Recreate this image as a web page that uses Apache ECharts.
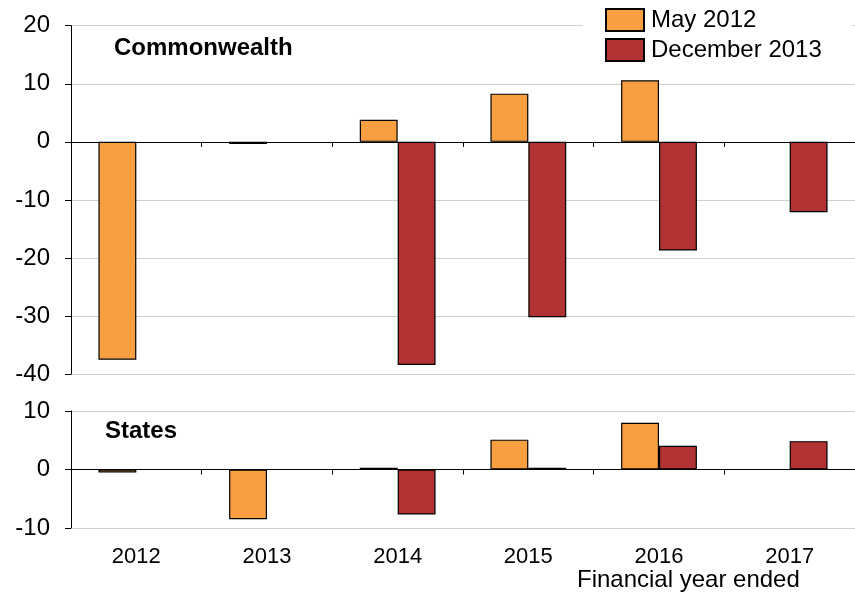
<!DOCTYPE html>
<html>
<head>
<meta charset="utf-8">
<script src="https://cdn.jsdelivr.net/npm/echarts@6/dist/echarts.min.js"></script>
<style>
  html, body { margin: 0; padding: 0; background: #fff; }
  #chart { width: 855px; height: 593px; }
</style>
</head>
<body>
<div id="chart"></div>
<script>
// financial years
var years = ['2012', '2013', '2014', '2015', '2016', '2017'];
var seriesNames = ['May 2012', 'December 2013'];

// Commonwealth panel
var cwMay2012 = [-37.5, -0.35, 3.8, 8.3, 10.6, null];
var cwDec2013 = [null, null, -38.4, -30.2, -18.7, -12.1];

// States panel
var stMay2012 = [-0.5, -8.5, 0.3, 5.1, 8.0, null];
var stDec2013 = [null, null, -7.7, 0.3, 4.05, 4.85];

var font = 'Arial, "Liberation Sans", sans-serif';
var orange = '#F8A041';
var red = '#B13333';

function barStyle(color) {
  return { color: color, borderColor: '#000', borderWidth: 1.2 };
}

function yAxis(grid, min, max, show) {
  return {
    type: 'value',
    gridIndex: grid,
    min: min,
    max: max,
    interval: 10,
    show: show,
    axisLine: { show: true, lineStyle: { color: '#000', width: 1 } },
    axisTick: { show: true, length: 6, lineStyle: { color: '#000' } },
    axisLabel: { color: '#000', fontSize: 24, fontFamily: font, margin: 21 },
    splitLine: { show: true, lineStyle: { color: '#d0d0d0', width: 1 } }
  };
}

function zeroAxis(grid) {
  return {
    type: 'category',
    gridIndex: grid,
    data: years,
    axisLine: { onZero: true, lineStyle: { color: '#000', width: 1 } },
    axisTick: { show: true, length: 5, lineStyle: { color: '#000' } },
    axisLabel: { show: false },
    splitLine: { show: false }
  };
}

var chart = echarts.init(document.getElementById('chart'));

chart.setOption({
  backgroundColor: '#fff',
  animation: false,
  grid: [
    { left: 71, top: 25.7, width: 792, height: 348.5 },
    { left: 71, top: 411, width: 792, height: 117 },
    { left: 71, top: 411, width: 792, height: 117 }
  ],
  xAxis: [
    zeroAxis(0),
    zeroAxis(1),
    {
      type: 'category',
      gridIndex: 2,
      data: years,
      position: 'bottom',
      axisLine: { show: false, onZero: false },
      axisTick: { show: false },
      axisLabel: { color: '#000', fontSize: 22, fontFamily: font, margin: 18 },
      splitLine: { show: false }
    }
  ],
  yAxis: [
    yAxis(0, -40, 20, true),
    yAxis(1, -10, 10, true),
    yAxis(2, -10, 10, false)
  ],
  legend: {
    orient: 'vertical',
    left: 583,
    top: 0,
    padding: [8, 30, 4, 22],
    backgroundColor: '#fff',
    icon: 'rect',
    itemWidth: 38,
    itemHeight: 22,
    itemGap: 6,
    textStyle: { color: '#000', fontSize: 24, fontFamily: font, padding: [0, 0, 0, 2] },
    data: seriesNames,
    z: 10
  },
  graphic: [
    { type: 'text', left: 114, top: 36, style: { text: 'Commonwealth', fontSize: 24, fontWeight: 'bold', fontFamily: font, fill: '#000' } },
    { type: 'text', left: 105, top: 419.5, style: { text: 'States', fontSize: 24, fontWeight: 'bold', fontFamily: font, fill: '#000' } },
    { type: 'text', left: 577, top: 568.5, style: { text: 'Financial year ended', fontSize: 24, fontFamily: font, fill: '#000' } }
  ],
  series: [
    { name: seriesNames[0], type: 'bar', xAxisIndex: 0, yAxisIndex: 0, data: cwMay2012, itemStyle: barStyle(orange), barGap: '0%', barCategoryGap: '42%' },
    { name: seriesNames[1], type: 'bar', xAxisIndex: 0, yAxisIndex: 0, data: cwDec2013, itemStyle: barStyle(red), barGap: '0%', barCategoryGap: '42%' },
    { name: seriesNames[0], type: 'bar', xAxisIndex: 1, yAxisIndex: 1, data: stMay2012, itemStyle: barStyle(orange), barGap: '0%', barCategoryGap: '42%' },
    { name: seriesNames[1], type: 'bar', xAxisIndex: 1, yAxisIndex: 1, data: stDec2013, itemStyle: barStyle(red), barGap: '0%', barCategoryGap: '42%' }
  ]
});
</script>
</body>
</html>
